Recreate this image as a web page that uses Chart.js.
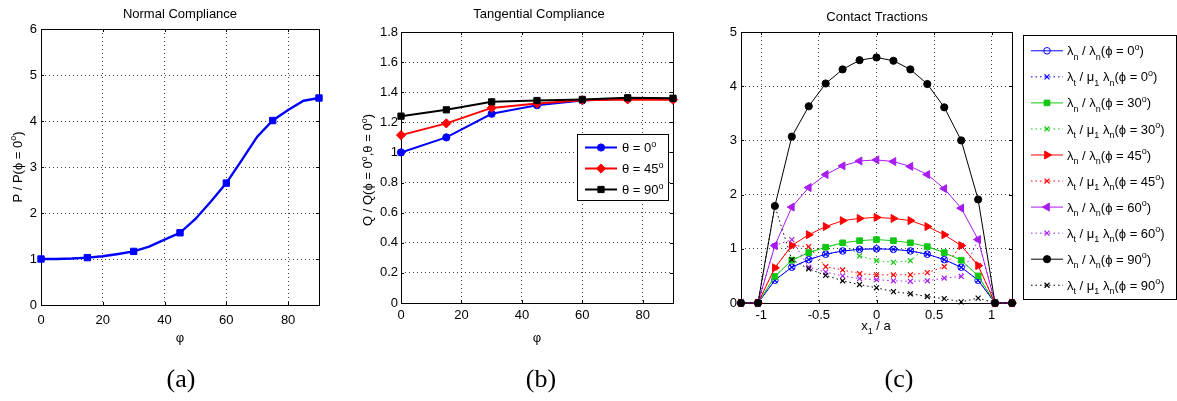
<!DOCTYPE html>
<html>
<head>
<meta charset="utf-8">
<script src="https://cdn.jsdelivr.net/npm/chart.js@4.4.1/dist/chart.umd.min.js"></script>
<style>
  html, body { margin: 0; padding: 0; background: #fff; }
  #wrap { position: relative; width: 1177px; height: 401px; overflow: hidden; }
  canvas { position: absolute; top: 0; }
</style>
</head>
<body>
<div id="wrap">
  <canvas id="ca" width="345" height="401" style="left:0px"></canvas>
  <canvas id="cb" width="355" height="401" style="left:345px"></canvas>
  <canvas id="cc" width="477" height="401" style="left:700px"></canvas>
</div>
<script>
// (a) normal compliance, curve sampled every 5 deg, markers every 15 deg
const phiFine = [0, 5, 10, 15, 20, 25, 30, 35, 40, 45, 50, 55, 60, 65, 70, 75, 80, 85, 90];
const normalP = [1.0, 1.0, 1.01, 1.03, 1.06, 1.11, 1.165, 1.27, 1.42, 1.57, 1.87, 2.25, 2.65, 3.15, 3.66, 4.01, 4.24, 4.44, 4.5];
const phiMarked = [0, 15, 30, 45, 60, 75, 90];

// (b) tangential compliance
const phiB = [0, 15, 30, 45, 60, 75, 90];
const tangQ0 = [1.0, 1.10, 1.257, 1.314, 1.345, 1.358, 1.355];
const tangQ45 = [1.115, 1.193, 1.296, 1.325, 1.347, 1.352, 1.35];
const tangQ90 = [1.241, 1.283, 1.336, 1.345, 1.352, 1.363, 1.36];

// (c) contact tractions
const xNodes = [-1.176, -1.029, -0.882, -0.735, -0.588, -0.441, -0.294, -0.147, 0,
                0.147, 0.294, 0.441, 0.588, 0.735, 0.882, 1.029, 1.176];
const lamN0  = [0, 0, 0.42, 0.66, 0.80, 0.90, 0.96, 0.99, 1.00, 0.99, 0.96, 0.90, 0.80, 0.66, 0.42, 0, 0];
const lamT0  = [0, 0, 0.42, 0.66, 0.80, 0.90, 0.96, 0.99, 1.00, 0.99, 0.96, 0.90, 0.80, 0.66, 0.42, 0, 0];
const lamN30 = [0, 0, 0.49, 0.79, 0.93, 1.03, 1.11, 1.15, 1.17, 1.15, 1.11, 1.04, 0.93, 0.79, 0.50, 0, 0];
const lamT30 = [0, 0, 0.49, 0.79, 0.93, 1.03, 1.11, 0.87, 0.78, 0.75, 0.78, 1.04, 0.93, 0.79, 0.50, 0, 0];
const lamN45 = [0, 0, 0.65, 1.06, 1.26, 1.41, 1.52, 1.56, 1.58, 1.56, 1.52, 1.41, 1.26, 1.06, 0.69, 0, 0];
const lamT45 = [0, 0, 0.65, 1.06, 1.04, 0.67, 0.61, 0.54, 0.52, 0.52, 0.52, 0.56, 0.67, 1.06, 0.69, 0, 0];
const lamN60 = [0, 0, 1.06, 1.77, 2.13, 2.37, 2.53, 2.62, 2.64, 2.61, 2.52, 2.37, 2.11, 1.75, 1.17, 0, 0];
const lamT60 = [0, 0, 1.06, 1.17, 0.66, 0.57, 0.50, 0.45, 0.43, 0.41, 0.40, 0.41, 0.46, 0.49, 1.17, 0, 0];
const lamN90 = [0, 0, 1.79, 3.07, 3.63, 4.05, 4.31, 4.48, 4.53, 4.47, 4.31, 4.04, 3.61, 3.00, 1.91, 0, 0];
const lamT90 = [0, 0, 1.79, 0.80, 0.63, 0.51, 0.41, 0.34, 0.28, 0.21, 0.17, 0.12, 0.08, 0.02, 0.09, 0, 0];

// tick values
const ticksAX = [0, 20, 40, 60, 80];
const ticksAY = [0, 1, 2, 3, 4, 5, 6];
const ticksBX = [0, 20, 40, 60, 80];
const ticksBY = [0, 0.2, 0.4, 0.6, 0.8, 1, 1.2, 1.4, 1.6, 1.8];
const ticksCX = [-1, -0.5, 0, 0.5, 1];
const ticksCY = [0, 1, 2, 3, 4, 5];

const FONT = "'Liberation Sans', Arial, Helvetica, sans-serif";
const SERIF = "'Liberation Serif', 'Times New Roman', serif";
const GRID = 'rgba(0,0,0,0.75)';
const BLUE = '#0000ff', RED = '#ff0000', GREEN = '#12c812', PURPLE = '#a81cf0', BLACK = '#000000';

Chart.defaults.font.family = FONT;
Chart.defaults.font.size = 13;
Chart.defaults.color = '#000';
Chart.defaults.animation = false;

// text with _x subscript and ^x superscript (single char)
function drawRich(ctx, str, x, y, size, align, family) {
  const parts = [];
  for (let i = 0; i < str.length; i++) {
    const c = str[i];
    if ((c === '_' || c === '^') && i + 1 < str.length) {
      parts.push({ t: str[i + 1], k: c });
      i++;
    } else {
      const last = parts[parts.length - 1];
      if (last && last.k === '') last.t += c;
      else parts.push({ t: c, k: '' });
    }
  }
  const fam = family || FONT;
  const fontFor = k => (k ? Math.round(size * 0.72) : size) + 'px ' + fam;
  let w = 0;
  parts.forEach(p => { ctx.font = fontFor(p.k); p.w = ctx.measureText(p.t).width; w += p.w; });
  let cx = align === 'center' ? x - w / 2 : align === 'right' ? x - w : x;
  ctx.textAlign = 'left';
  ctx.textBaseline = 'alphabetic';
  parts.forEach(p => {
    ctx.font = fontFor(p.k);
    const dy = p.k === '_' ? size * 0.32 : p.k === '^' ? -size * 0.42 : 0;
    ctx.fillText(p.t, cx, y + dy);
    cx += p.w;
  });
}

const figText = {
  id: 'figText',
  afterDraw(chart, args, opts) {
    const ctx = chart.ctx;
    (opts.items || []).forEach(it => {
      ctx.save();
      ctx.fillStyle = '#000';
      ctx.translate(it.x, it.y);
      if (it.rot) ctx.rotate(-Math.PI / 2);
      drawRich(ctx, it.text, 0, it.size * 0.35, it.size, 'center', it.serif ? SERIF : FONT);
      ctx.restore();
    });
  }
};

// matlab style box with inward ticks
const axesBox = {
  id: 'axesBox',
  beforeDatasetsDraw(chart) {
    const { ctx, chartArea: a, scales: { x, y } } = chart;
    ctx.save();
    ctx.strokeStyle = '#000';
    ctx.lineWidth = 1;
    ctx.strokeRect(a.left + 0.5, a.top + 0.5, a.right - a.left, a.bottom - a.top);
    ctx.beginPath();
    x.ticks.forEach(t => {
      const px = Math.round(x.getPixelForValue(t.value)) + 0.5;
      ctx.moveTo(px, a.bottom); ctx.lineTo(px, a.bottom - 3);
      ctx.moveTo(px, a.top); ctx.lineTo(px, a.top + 3);
    });
    y.ticks.forEach(t => {
      const py = Math.round(y.getPixelForValue(t.value)) + 0.5;
      ctx.moveTo(a.left, py); ctx.lineTo(a.left + 3, py);
      ctx.moveTo(a.right, py); ctx.lineTo(a.right - 3, py);
    });
    ctx.stroke();
    ctx.restore();
  }
};

const mlLegend = {
  id: 'mlLegend',
  afterDraw(chart, args, o) {
    if (!o.box) return;
    const ctx = chart.ctx;
    const [bx, by, bw, bh] = o.box;
    ctx.save();
    ctx.fillStyle = '#fff';
    ctx.fillRect(bx, by, bw, bh);
    ctx.strokeStyle = '#000';
    ctx.lineWidth = 1;
    ctx.strokeRect(bx + 0.5, by + 0.5, bw, bh);
    chart.data.datasets.forEach((ds, i) => {
      const yy = o.y0 + i * o.dy;
      ctx.save();
      ctx.strokeStyle = ds.borderColor;
      ctx.lineWidth = ds.borderWidth;
      ctx.setLineDash(ds.borderDash || []);
      ctx.beginPath();
      ctx.moveTo(o.x0, yy);
      ctx.lineTo(o.x1, yy);
      ctx.stroke();
      ctx.setLineDash([]);
      ctx.fillStyle = ds.pointBackgroundColor;
      ctx.strokeStyle = ds.pointBorderColor;
      ctx.lineWidth = ds.pointBorderWidth;
      Chart.helpers.drawPoint(ctx, {
        pointStyle: ds.pointStyle, radius: ds.pointRadius,
        rotation: ds.pointRotation || 0, borderWidth: ds.pointBorderWidth
      }, (o.x0 + o.x1) / 2, yy);
      ctx.restore();
      ctx.fillStyle = '#000';
      drawRich(ctx, ds.label, o.tx, yy + o.size * 0.35, o.size, 'left');
    });
    ctx.restore();
  }
};

Chart.register(figText, axesBox, mlLegend);

function axis(min, max, ticks, size, pad) {
  return {
    type: 'linear', min, max,
    afterBuildTicks: s => { s.ticks = ticks.map(v => ({ value: v })); },
    afterFit: s => { if (s.isHorizontal()) s.height = size; else s.width = size; },
    border: { display: false, dash: [1, 3] },
    grid: {
      drawTicks: false,
      lineWidth: 1,
      color: c => (c.tick && (c.tick.value === min || c.tick.value === max)) ? 'rgba(0,0,0,0)' : GRID
    },
    ticks: { padding: pad, autoSkip: false, maxRotation: 0, callback: v => String(+Number(v).toFixed(2)) }
  };
}

const xy = (xs, ys) => xs.map((v, i) => ({ x: v, y: ys[i] }));

function baseOpts(padding, scales, texts, legend) {
  return {
    responsive: false,
    devicePixelRatio: 1,
    animation: false,
    layout: { padding },
    scales,
    plugins: {
      legend: { display: false },
      tooltip: { enabled: false },
      figText: { items: texts },
      mlLegend: legend || {}
    }
  };
}

// ---------- (a)
new Chart(document.getElementById('ca'), {
  type: 'line',
  data: {
    datasets: [{
      label: 'P',
      data: xy(phiFine, normalP),
      borderColor: BLUE, borderWidth: 2.4, tension: 0,
      pointStyle: 'rect',
      pointRadius: c => phiMarked.includes(phiFine[c.dataIndex]) ? 4.5 : 0,
      pointBackgroundColor: BLUE, pointBorderColor: BLUE, pointBorderWidth: 1,
      clip: false
    }]
  },
  options: baseOpts(
    { left: 0, top: 29, right: 26, bottom: 76 },
    { x: axis(0, 90, ticksAX, 20, 8), y: axis(0, 6, ticksAY, 41, 4) },
    [
      { text: 'Normal Compliance', x: 180, y: 13.5, size: 13 },
      { text: 'φ', x: 180, y: 337, size: 13 },
      { text: 'P / P(ϕ = 0^o)', x: 17, y: 167, size: 13, rot: true },
      { text: '(a)', x: 181, y: 378, size: 26, serif: true }
    ]
  )
});

// ---------- (b)
function lineB(label, data, color, style, radius, i) {
  return {
    label, data: xy(phiB, data), order: -i,
    borderColor: color, borderWidth: 2, tension: 0,
    pointStyle: style, pointRadius: radius,
    pointBackgroundColor: color, pointBorderColor: color, pointBorderWidth: 1,
    clip: false
  };
}
new Chart(document.getElementById('cb'), {
  type: 'line',
  data: {
    datasets: [
      lineB('θ = 0^o', tangQ0, BLUE, 'circle', 3.6, 0),
      lineB('θ = 45^o', tangQ45, RED, 'rectRot', 4.6, 1),
      lineB('θ = 90^o', tangQ90, BLACK, 'rect', 4.4, 2)
    ]
  },
  options: baseOpts(
    { left: 0, top: 32, right: 27, bottom: 78 },
    { x: axis(0, 90, ticksBX, 20, 5), y: axis(0, 1.8, ticksBY, 56, 3) },
    [
      { text: 'Tangential Compliance', x: 194, y: 13.8, size: 13 },
      { text: 'φ', x: 192, y: 337, size: 13 },
      { text: 'Q / Q(ϕ = 0^o,θ = 0^o)', x: 22.5, y: 170, size: 13, rot: true },
      { text: '(b)', x: 196, y: 378, size: 26, serif: true }
    ],
    { box: [232, 134, 91, 66], y0: 147.5, dy: 21, x0: 240, x1: 272, tx: 277, size: 13 }
  )
});

// ---------- (c)
function solidC(label, data, color, style, radius, rot, fill, i) {
  return {
    label, data: xy(xNodes, data), order: -i,
    borderColor: color, borderWidth: 1, tension: 0,
    pointStyle: style, pointRadius: radius, pointRotation: rot,
    pointBackgroundColor: fill, pointBorderColor: color, pointBorderWidth: 1,
    clip: false
  };
}
function dottedC(label, data, color, i) {
  return {
    label, data: xy(xNodes, data), order: -i,
    borderColor: color, borderWidth: 1, borderDash: [1.5, 3], tension: 0,
    pointStyle: 'crossRot', pointRadius: 3.5,
    pointBackgroundColor: color, pointBorderColor: color, pointBorderWidth: 1.2,
    clip: false
  };
}
new Chart(document.getElementById('cc'), {
  type: 'line',
  data: {
    datasets: [
      solidC('λ_n / λ_n(ϕ = 0^o)', lamN0, BLUE, 'circle', 3.3, 0, 'rgba(0,0,0,0)', 0),
      dottedC('λ_t / μ_1 λ_n(ϕ = 0^o)', lamT0, BLUE, 1),
      solidC('λ_n / λ_n(ϕ = 30^o)', lamN30, GREEN, 'rect', 4, 0, GREEN, 2),
      dottedC('λ_t / μ_1 λ_n(ϕ = 30^o)', lamT30, GREEN, 3),
      solidC('λ_n / λ_n(ϕ = 45^o)', lamN45, RED, 'triangle', 4.6, 90, RED, 4),
      dottedC('λ_t / μ_1 λ_n(ϕ = 45^o)', lamT45, RED, 5),
      solidC('λ_n / λ_n(ϕ = 60^o)', lamN60, PURPLE, 'triangle', 4.6, -90, PURPLE, 6),
      dottedC('λ_t / μ_1 λ_n(ϕ = 60^o)', lamT60, PURPLE, 7),
      solidC('λ_n / λ_n(ϕ = 90^o)', lamN90, BLACK, 'circle', 3.6, 0, BLACK, 8),
      dottedC('λ_t / μ_1 λ_n(ϕ = 90^o)', lamT90, BLACK, 9)
    ]
  },
  options: baseOpts(
    { left: 0, top: 32, right: 165, bottom: 78 },
    { x: axis(-1.176, 1.176, ticksCX, 20, 5), y: axis(0, 5, ticksCY, 41, 4) },
    [
      { text: 'Contact Tractions', x: 177, y: 16.7, size: 13 },
      { text: 'x_1 / a', x: 176, y: 325, size: 13 },
      { text: '(c)', x: 199, y: 378, size: 26, serif: true }
    ],
    { box: [323, 35, 153, 264], y0: 50.8, dy: 26.05, x0: 331, x1: 363, tx: 367, size: 13 }
  )
});
</script>
</body>
</html>
